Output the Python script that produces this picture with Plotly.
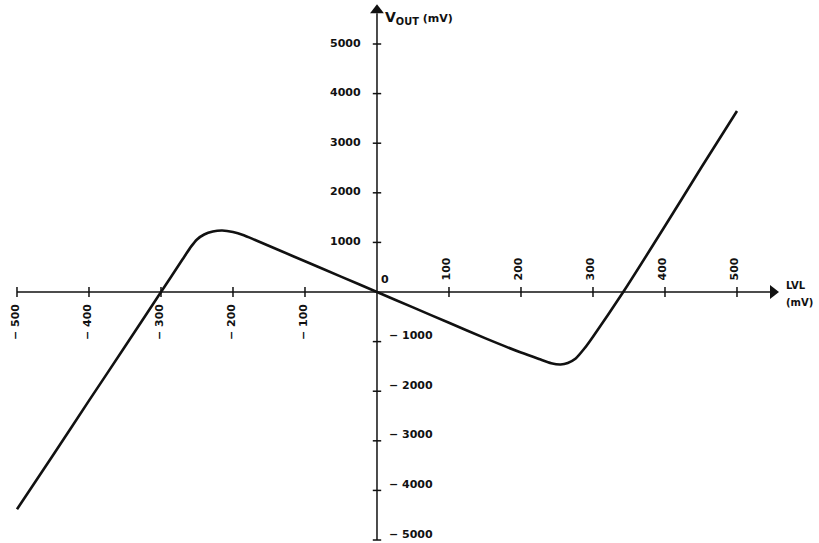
import plotly.graph_objects as go

# Data
lvl = [-500, -450, -400, -350, -300, -270, -258, -250, -240, -228, -215, -200, -185, -170,
       -135, -100, -50, 0, 50, 100, 150, 200, 225, 242, 255, 265, 276, 288, 300, 342,
       400, 450, 500]
vout = [-4380, -3290, -2190, -1100, 0, 660, 920, 1060, 1160, 1220, 1240, 1210, 1145, 1054,
        837, 620, 310, 0, -310, -620, -930, -1220, -1350, -1435, -1460, -1430, -1340, -1140,
        -900, 0, 1330, 2500, 3650]

x_ticks = [-500, -400, -300, -200, -100, 100, 200, 300, 400, 500]
x_tick_labels = ["\u2212 500", "\u2212 400", "\u2212 300", "\u2212 200", "\u2212 100",
                 "100", "200", "300", "400", "500"]
y_ticks = [5000, 4000, 3000, 2000, 1000, -1000, -2000, -3000, -4000, -5000]
y_tick_labels = ["5000", "4000", "3000", "2000", "1000",
                 "\u2212 1000", "\u2212 2000", "\u2212 3000", "\u2212 4000", "\u2212 5000"]

# axis extents (arrow-head centres)
x_axis_end = 550
y_axis_end = 5680

x_title_top = "<b>LVL</b>"
x_title_bottom = "<b>(mV)</b>"
y_title = "<b>V<sub>OUT</sub></b><b><span style='font-size:11px'> (mV)</span></b>"

FONT = "DejaVu Sans"
INK = "#111111"

fig = go.Figure()

# axis lines
fig.add_trace(go.Scatter(x=[x_ticks[0], x_axis_end - 4], y=[0, 0], mode="lines",
                         line=dict(color=INK, width=1.5), hoverinfo="skip", showlegend=False))
fig.add_trace(go.Scatter(x=[0, 0], y=[y_ticks[-1], y_axis_end - 60], mode="lines",
                         line=dict(color=INK, width=1.5), hoverinfo="skip", showlegend=False))
# arrow heads
fig.add_trace(go.Scatter(x=[x_axis_end], y=[0], mode="markers",
                         marker=dict(symbol="triangle-right", size=12, color=INK,
                                     line=dict(width=0)),
                         hoverinfo="skip", showlegend=False))
fig.add_trace(go.Scatter(x=[0], y=[y_axis_end], mode="markers",
                         marker=dict(symbol="triangle-up", size=12, color=INK,
                                     line=dict(width=0)),
                         hoverinfo="skip", showlegend=False))

# curve
fig.add_trace(go.Scatter(x=lvl, y=vout, mode="lines",
                         line=dict(color=INK, width=2.6, shape="spline", smoothing=0.6),
                         hoverinfo="skip", showlegend=False))

# tick marks on axes
fig.add_trace(go.Scatter(x=x_ticks, y=[0] * len(x_ticks), mode="markers",
                         marker=dict(symbol="line-ns-open", size=7, color=INK,
                                     line=dict(color=INK, width=1.5)),
                         hoverinfo="skip", showlegend=False))
fig.add_trace(go.Scatter(x=[0] * len(y_ticks), y=y_ticks, mode="markers",
                         marker=dict(symbol="line-ew-open", size=6, color=INK,
                                     line=dict(color=INK, width=1.5)),
                         hoverinfo="skip", showlegend=False))

ann = []
# x tick labels (rotated)
for t, lab in zip(x_ticks, x_tick_labels):
    if t < 0:
        ann.append(dict(x=t, y=0, xref="x", yref="y", text="<b>" + lab + "</b>", showarrow=False,
                        textangle=-90, yanchor="top", xanchor="center", yshift=-10, xshift=-2,
                        font=dict(family=FONT, size=11, color=INK)))
    else:
        ann.append(dict(x=t, y=0, xref="x", yref="y", text="<b>" + lab + "</b>", showarrow=False,
                        textangle=-90, yanchor="bottom", xanchor="center", yshift=10, xshift=-2,
                        font=dict(family=FONT, size=11, color=INK)))

# y tick labels
for t, lab in zip(y_ticks, y_tick_labels):
    if t > 0:
        ann.append(dict(x=0, y=t, xref="x", yref="y", text="<b>" + lab + "</b>", showarrow=False,
                        xanchor="right", yanchor="middle", xshift=-14, yshift=1,
                        font=dict(family=FONT, size=11, color=INK)))
    else:
        ann.append(dict(x=0, y=t, xref="x", yref="y", text="<b>" + lab + "</b>", showarrow=False,
                        xanchor="left", yanchor="middle", xshift=10, yshift=6,
                        font=dict(family=FONT, size=11, color=INK)))

# origin label
ann.append(dict(x=0, y=0, xref="x", yref="y", text="<b>0</b>", showarrow=False,
                xanchor="left", yanchor="bottom", xshift=2, yshift=4,
                font=dict(family=FONT, size=11, color=INK)))

# axis titles
ann.append(dict(x=0, y=5530, xref="x", yref="y", text=y_title, showarrow=False,
                xanchor="left", yanchor="middle", xshift=6,
                font=dict(family=FONT, size=14, color=INK)))
ann.append(dict(x=565, y=0, xref="x", yref="y", text=x_title_top, showarrow=False,
                xanchor="left", yanchor="middle", yshift=7,
                font=dict(family=FONT, size=10, color=INK)))
ann.append(dict(x=565, y=0, xref="x", yref="y", text=x_title_bottom, showarrow=False,
                xanchor="left", yanchor="middle", yshift=-10,
                font=dict(family=FONT, size=10, color=INK)))

fig.update_layout(
    width=819, height=543,
    margin=dict(l=0, r=0, t=0, b=0),
    paper_bgcolor="white", plot_bgcolor="white",
    xaxis=dict(range=[-523.6, 613.9], visible=False, fixedrange=True),
    yaxis=dict(range=[-5060, 5887], visible=False, fixedrange=True),
    annotations=ann,
    showlegend=False,
)

fig.write_html("out.html", config={"displayModeBar": False},
               post_script="document.body.style.margin='0';document.body.style.overflow='hidden';")
